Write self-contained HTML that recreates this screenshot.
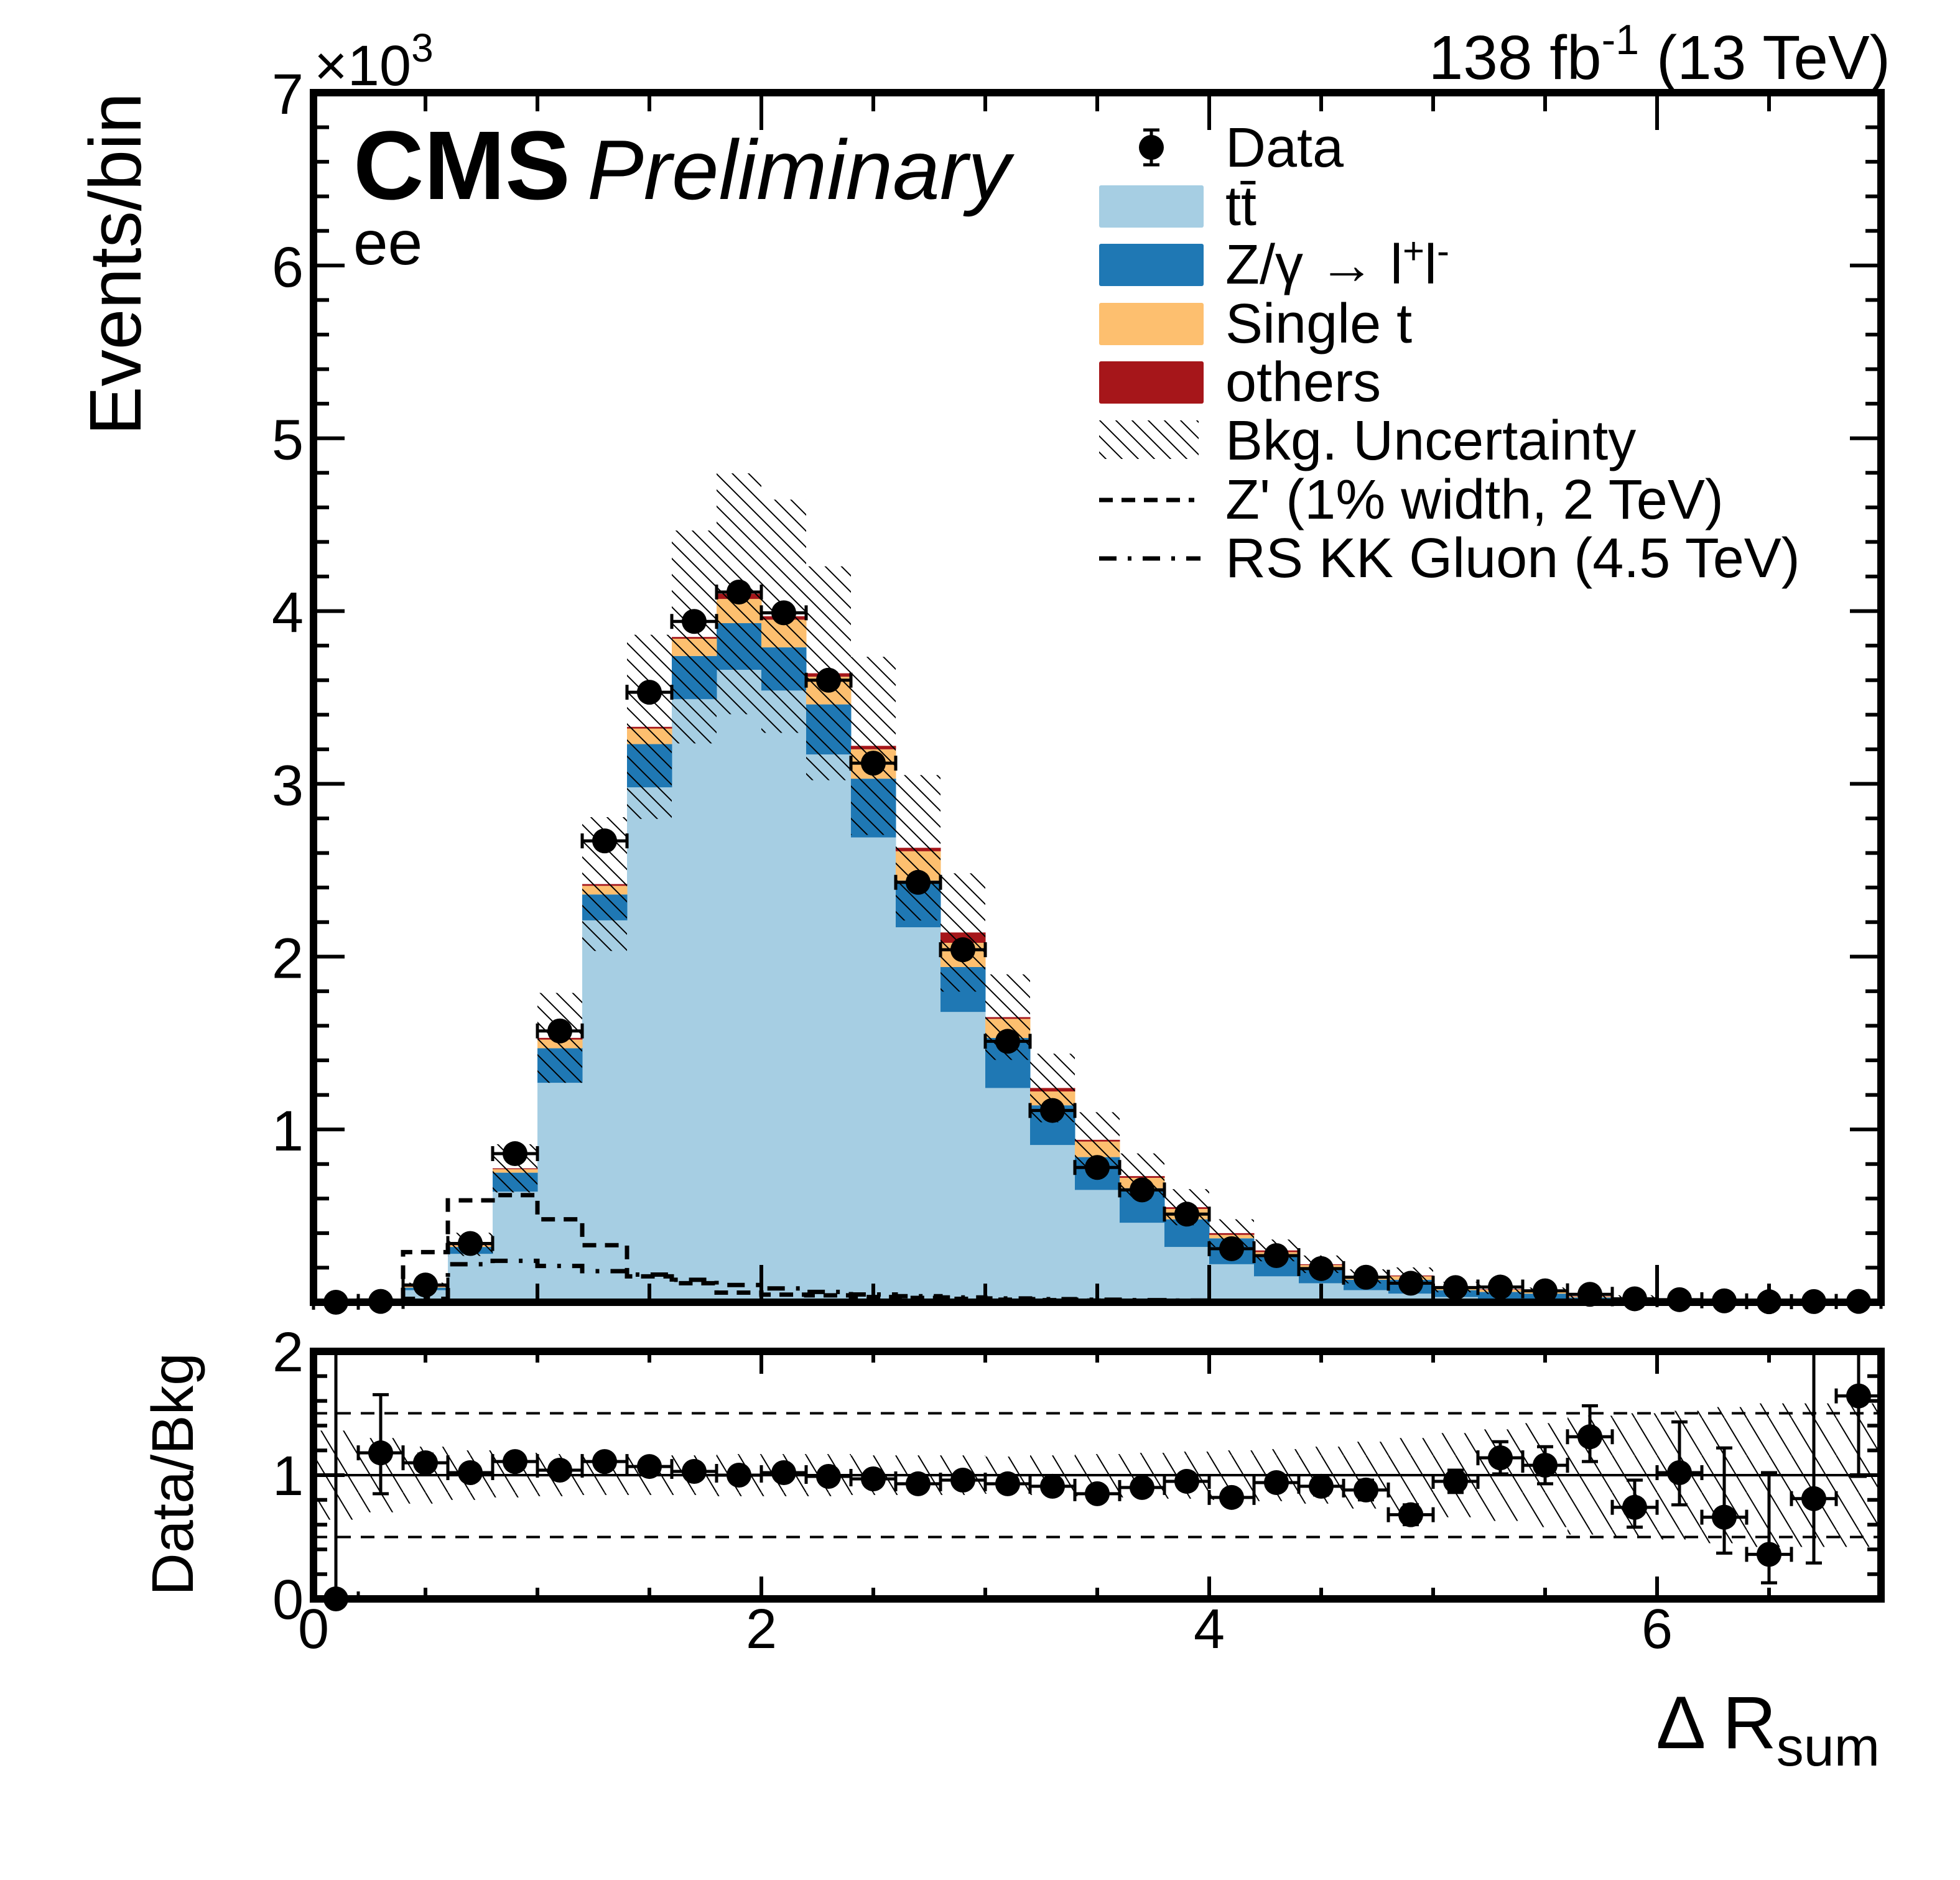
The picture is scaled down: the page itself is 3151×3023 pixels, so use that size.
<!DOCTYPE html>
<html><head><meta charset="utf-8"><title>CMS Delta R_sum ee</title>
<style>html,body{margin:0;padding:0;background:#fff}svg{display:block;font-family:"Liberation Sans",Arial,sans-serif}</style>
</head><body>
<svg id="chart" width="3151" height="3023" viewBox="0 0 3151 3023" xmlns="http://www.w3.org/2000/svg">
<defs>
<pattern id="hatch" patternUnits="userSpaceOnUse" width="26" height="26">
<path d="M-2,-2 L28,28 M-15,11 L2,28 M11,-15 L28,2" stroke="#000" stroke-width="2" fill="none"/>
</pattern>
<pattern id="hatchR" patternUnits="userSpaceOnUse" width="36" height="60">
<path d="M0,0 L36,60 M-36,0 L0,60 M36,0 L72,60" stroke="#000" stroke-width="2" fill="none"/>
</pattern>
<clipPath id="clipMain"><rect x="504" y="149" width="2520" height="1945"/></clipPath>
<clipPath id="clipRatio"><rect x="504" y="2173" width="2520" height="398"/></clipPath>
</defs>
<g id="main-layer"></g>
<g id="ratio-layer"></g>
<g id="axes-layer"></g>

<text x="3039" y="127" font-size="100" text-anchor="end">138 fb<tspan dy="-40" font-size="68">-1</tspan><tspan dy="40"> (13 TeV)</tspan></text>
<text x="505" y="137" font-size="92">×10<tspan dy="-38" font-size="64">3</tspan></text>
<text x="568" y="320" font-size="157" font-weight="bold">CMS</text>
<text x="944" y="320" font-size="136" font-style="italic">Preliminary</text>
<text x="568" y="425" font-size="100">ee</text>
<text transform="translate(226,149) rotate(-90)" font-size="118" text-anchor="end">Events/bin</text>
<text transform="translate(310,2175) rotate(-90)" font-size="95" text-anchor="end">Data/Bkg</text>
<text x="3022" y="2811" font-size="120" text-anchor="end">Δ R<tspan dy="28" font-size="88">sum</tspan></text>

<g id="legend">
<g>
<circle cx="1851" cy="237" r="20" fill="#000"/>
<path d="M1851,209 V265 M1838,209 H1864 M1838,265 H1864" stroke="#000" stroke-width="5"/>
<text x="1970" y="268" font-size="90">Data</text></g>
<g>
<rect x="1767" y="298" width="168" height="68" rx="3" fill="#a6cee3"/>
<text x="1970" y="362" font-size="90">tt<tspan text-decoration="overline">̄</tspan></text></g>
<g>
<rect x="1767" y="392" width="168" height="68" rx="3" fill="#1f78b4"/>
<text x="1970" y="456" font-size="90">Z/γ  → l<tspan dy="-32" font-size="60">+</tspan><tspan dy="32">l</tspan><tspan dy="-32" font-size="60">-</tspan></text></g>
<g>
<rect x="1767" y="487" width="168" height="68" rx="3" fill="#fdbf6f"/>
<text x="1970" y="551" font-size="90">Single t</text></g>
<g>
<rect x="1767" y="581" width="168" height="68" rx="3" fill="#a6161a"/>
<text x="1970" y="645" font-size="90">others</text></g>
<g>
<rect x="1767" y="676" width="160" height="62" fill="url(#hatch)"/>
<text x="1970" y="739" font-size="90">Bkg. Uncertainty</text></g>
<g>
<line x1="1767" y1="804" x2="1920" y2="804" stroke="#000" stroke-width="7" stroke-dasharray="22,14"/>
<text x="1970" y="834" font-size="90">Z' (1% width, 2 TeV)</text></g>
<g>
<line x1="1767" y1="898" x2="1930" y2="898" stroke="#000" stroke-width="7" stroke-dasharray="28,18,6,18"/>
<text x="1970" y="928" font-size="90">RS KK Gluon (4.5 TeV)</text></g>
</g>
</svg>
<script>
// ---- data (values in thousands of events) ----
const binCenters = [0.1,0.3,0.5,0.7,0.9,1.1,1.3,1.5,1.7,1.9,2.1,2.3,2.5,2.7,2.9,3.1,3.3,3.5,3.7,3.9,4.1,4.3,4.5,4.7,4.9,5.1,5.3,5.5,5.7,5.9,6.1,6.3,6.5,6.7,6.9];
const ttbar = [0.003,0.003,0.07,0.28,0.64,1.27,2.21,2.98,3.49,3.66,3.54,3.17,2.69,2.17,1.68,1.24,0.91,0.65,0.46,0.32,0.22,0.15,0.11,0.07,0.05,0.03,0.02,0.015,0.01,0.005,0.003,0.002,0.001,0.001,0.0005];
const dyll = [0.001,0.001,0.015,0.04,0.11,0.20,0.15,0.25,0.25,0.27,0.25,0.29,0.34,0.27,0.26,0.29,0.23,0.19,0.20,0.16,0.15,0.12,0.09,0.06,0.08,0.04,0.04,0.035,0.018,0.017,0.008,0.007,0.005,0.003,0.002];
const singleTop = [0.0005,0.0005,0.005,0.01,0.02,0.05,0.05,0.09,0.10,0.14,0.16,0.16,0.17,0.17,0.14,0.11,0.08,0.09,0.06,0.06,0.02,0.02,0.015,0.015,0.02,0.013,0.012,0.008,0.005,0.004,0.002,0.002,0.0015,0.0008,0.0004];
const others = [0.0005,0.0005,0.002,0.005,0.005,0.01,0.01,0.01,0.01,0.03,0.02,0.02,0.02,0.02,0.06,0.01,0.02,0.01,0.01,0.01,0.01,0.01,0.005,0.005,0.005,0.005,0.003,0.002,0.002,0.001,0.001,0.001,0.0005,0.0002,0.0001];
const dataVals = [0,0.005,0.10,0.34,0.86,1.57,2.67,3.53,3.94,4.11,3.99,3.60,3.12,2.43,2.04,1.51,1.11,0.78,0.65,0.51,0.31,0.27,0.195,0.145,0.11,0.085,0.088,0.066,0.046,0.02,0.015,0.008,0.003,0.004,0.005];
const relUnc = [0.36,0.30,0.23,0.20,0.18,0.17,0.16,0.16,0.16,0.17,0.17,0.17,0.16,0.16,0.16,0.15,0.16,0.17,0.18,0.19,0.20,0.21,0.23,0.27,0.30,0.34,0.37,0.42,0.48,0.50,0.52,0.55,0.58,0.58,0.58];
const zprime = [0.005,0.01,0.29,0.59,0.62,0.48,0.33,0.15,0.11,0.056,0.044,0.04,0.03,0.025,0.02,0.015,0.012,0.01,0.008,0.006,0.005,0.004,0.003,0.003,0.002,0.002,0.002,0.001,0.001,0.001,0.001,0.001,0.001,0.001,0.001];
const rsGluon = [0.003,0.005,0.02,0.22,0.24,0.21,0.18,0.16,0.13,0.10,0.08,0.06,0.045,0.035,0.028,0.022,0.018,0.015,0.012,0.01,0.008,0.007,0.006,0.005,0.004,0.004,0.003,0.003,0.002,0.002,0.002,0.002,0.001,0.001,0.001];
const ratioVals = [0,1.18,1.10,1.02,1.11,1.04,1.11,1.07,1.03,1.00,1.02,0.99,0.97,0.93,0.96,0.93,0.91,0.85,0.90,0.95,0.82,0.94,0.91,0.88,0.68,0.95,1.14,1.08,1.31,0.74,1.02,0.66,0.36,0.81,1.64];
const ratioErrUp = [2.5,0.47,0.07,0.05,0.04,0.03,0.02,0.02,0.02,0.02,0.02,0.02,0.02,0.02,0.02,0.03,0.03,0.04,0.04,0.05,0.06,0.06,0.07,0.08,0.08,0.09,0.13,0.15,0.25,0.22,0.41,0.56,0.66,1.5,1.0];
const ratioErrDn = [0,0.33,0.06,0.04,0.04,0.03,0.02,0.02,0.02,0.02,0.02,0.02,0.02,0.02,0.02,0.03,0.03,0.04,0.04,0.05,0.06,0.06,0.07,0.08,0.08,0.09,0.13,0.15,0.20,0.16,0.26,0.29,0.23,0.52,0.65];
const xTickLabels = ["0","2","4","6"];
const yTickLabels = ["1","2","3","4","5","6","7"];
const ratioTickLabels = ["0","1","2"];
const binWidth = 0.2;

// ---- axis functions ----
const MAIN_BOT = 2094, MAIN_TOP = 149, R_TOP = 2173, R_BOT = 2571;
const X = v => 504 + v * 360;
const Y = v => MAIN_BOT - v * (MAIN_BOT - MAIN_TOP) / 7;
const YR = r => R_BOT - r * (R_BOT - R_TOP) / 2;
const NS = "http://www.w3.org/2000/svg";
function mk(tag, attrs, parent) {
  const e = document.createElementNS(NS, tag);
  for (const k in attrs) e.setAttribute(k, attrs[k]);
  parent.appendChild(e);
  return e;
}
const mainL = document.getElementById('main-layer');
const ratioL = document.getElementById('ratio-layer');
const axesL = document.getElementById('axes-layer');
const gMain = mk('g', {'clip-path': 'url(#clipMain)'}, mainL);


const gRatio = mk('g', {'clip-path': 'url(#clipRatio)'}, ratioL);



// stacked histograms
const series = [[ttbar,'#a6cee3','ttbar'],[dyll,'#1f78b4','dy'],[singleTop,'#fdbf6f','single-top'],[others,'#a6161a','others']];
const stackTotal = binCenters.map(() => 0);
series.forEach(([vals, col, nm]) => {
  binCenters.forEach((c, i) => {
    const lo = stackTotal[i], hi = lo + vals[i];
    stackTotal[i] = hi;
    const r = mk('rect', {x: X(c - binWidth/2), y: Y(hi), width: X(c + binWidth/2) - X(c - binWidth/2) + 0.5, height: Math.max(0, Y(lo) - Y(hi)), fill: col}, gMain);
    
    
  });
});
// uncertainty band
binCenters.forEach((c, i) => {
  const t = stackTotal[i], u = relUnc[i];
  const r = mk('rect', {x: X(c - binWidth/2), y: Y(t * (1 + u)), width: X(c + binWidth/2) - X(c - binWidth/2), height: Y(t * (1 - u)) - Y(t * (1 + u)), fill: 'url(#hatch)'}, gMain);
  
  
});
// signal step lines
function stepPath(vals) {
  let d = '';
  binCenters.forEach((c, i) => {
    const x0 = X(c - binWidth/2), x1 = X(c + binWidth/2), y = Y(vals[i]);
    d += (i === 0 ? 'M' : 'L') + x0 + ',' + y + ' L' + x1 + ',' + y + ' ';
  });
  return d;
}
const zp = mk('path', {d: stepPath(zprime), fill: 'none', stroke: '#000', 'stroke-width': 7, 'stroke-dasharray': '22,14'}, gMain);


const rs = mk('path', {d: stepPath(rsGluon), fill: 'none', stroke: '#000', 'stroke-width': 7, 'stroke-dasharray': '28,18,6,18'}, gMain);


// data points
const gData = mk('g', {}, mainL);


binCenters.forEach((c, i) => {
  const y = Y(dataVals[i]);
  const err = Math.sqrt(dataVals[i] * 1000) / 1000;
  const p = mk('path', {d: 'M' + X(c - binWidth/2) + ',' + y + ' H' + X(c + binWidth/2) + ' M' + X(c - binWidth/2) + ',' + (y-12) + ' V' + (y+12) + ' M' + X(c + binWidth/2) + ',' + (y-12) + ' V' + (y+12) + ' M' + X(c) + ',' + Y(dataVals[i] + err) + ' V' + Y(Math.max(0, dataVals[i] - err)), stroke: '#000', 'stroke-width': 5, fill: 'none'}, gData);
  
  
  const m = mk('circle', {cx: X(c), cy: y, r: 20, fill: '#000'}, gData);
  
  
});

// ratio panel
binCenters.forEach((c, i) => {
  const u = relUnc[i];
  const r = mk('rect', {x: X(c - binWidth/2), y: YR(1 + u), width: X(c + binWidth/2) - X(c - binWidth/2), height: YR(1 - u) - YR(1 + u), fill: 'url(#hatchR)'}, gRatio);
  
  
});
const l1 = mk('line', {x1: 504, x2: 3024, y1: YR(1), y2: YR(1), stroke: '#000', 'stroke-width': 4}, gRatio);


[0.5, 1.5].forEach(v => {
  const l = mk('line', {x1: 504, x2: 3024, y1: YR(v), y2: YR(v), stroke: '#000', 'stroke-width': 4, 'stroke-dasharray': '22,16'}, gRatio);
  
  
});
binCenters.forEach((c, i) => {
  const v = ratioVals[i], y = YR(v);
  const yu = YR(v + ratioErrUp[i]), yd = YR(Math.max(0, v - ratioErrDn[i]));
  const p = mk('path', {d: 'M' + X(c - binWidth/2) + ',' + y + ' H' + X(c + binWidth/2) + ' M' + X(c - binWidth/2) + ',' + (y-12) + ' V' + (y+12) + ' M' + X(c + binWidth/2) + ',' + (y-12) + ' V' + (y+12) + ' M' + X(c) + ',' + yu + ' V' + yd + ' M' + (X(c)-13) + ',' + yu + ' H' + (X(c)+13) + ' M' + (X(c)-13) + ',' + yd + ' H' + (X(c)+13), stroke: '#000', 'stroke-width': 5, fill: 'none'}, gRatio);
  
  
  const m = mk('circle', {cx: X(c), cy: y, r: 20, fill: '#000'}, ratioL);
  
  
});

// frames and ticks
function frame(top, bottom, name) {
  const f = mk('rect', {x: 504, y: top, width: 2520, height: bottom - top, fill: 'none', stroke: '#000', 'stroke-width': 12}, axesL);
  
  
}
frame(MAIN_TOP, MAIN_BOT, 'main-frame');
frame(R_TOP, R_BOT, 'ratio-frame');
let td = '';
for (let v = 0.5; v < 7; v += 0.5) {
  const len = (Math.abs(v % 2) < 1e-6) ? 60 : 30;
  td += 'M' + X(v) + ',' + MAIN_BOT + ' v-' + len + ' M' + X(v) + ',' + MAIN_TOP + ' v' + len + ' ';
  td += 'M' + X(v) + ',' + R_BOT + ' v-' + (len * 0.6) + ' M' + X(v) + ',' + R_TOP + ' v' + (len * 0.6) + ' ';
}
for (let v = 0.2; v < 7; v += 0.2) {
  const major = Math.abs(v - Math.round(v)) < 1e-6;
  const len = major ? 50 : 25;
  td += 'M504,' + Y(v) + ' h' + len + ' M3024,' + Y(v) + ' h-' + len + ' ';
}
for (let v = 0.2; v < 2; v += 0.2) {
  const major = Math.abs(v - 1) < 1e-6;
  const len = major ? 50 : 22;
  td += 'M504,' + YR(v) + ' h' + len + ' M3024,' + YR(v) + ' h-' + len + ' ';
}
const ticks = mk('path', {d: td, stroke: '#000', 'stroke-width': 6, fill: 'none'}, axesL);



xTickLabels.forEach(s => {
  const t = mk('text', {x: X(parseFloat(s)), y: 2650, 'font-size': 90, 'text-anchor': 'middle'}, axesL);
  t.textContent = s;
  
  
});
yTickLabels.forEach(s => {
  const t = mk('text', {x: 488, y: Y(parseFloat(s)) + 34, 'font-size': 92, 'text-anchor': 'end'}, axesL);
  t.textContent = s;
  
  
});
ratioTickLabels.forEach(s => {
  const t = mk('text', {x: 488, y: YR(parseFloat(s)) + 32, 'font-size': 90, 'text-anchor': 'end'}, axesL);
  t.textContent = s;
  
  
});
</script>
</body></html>
